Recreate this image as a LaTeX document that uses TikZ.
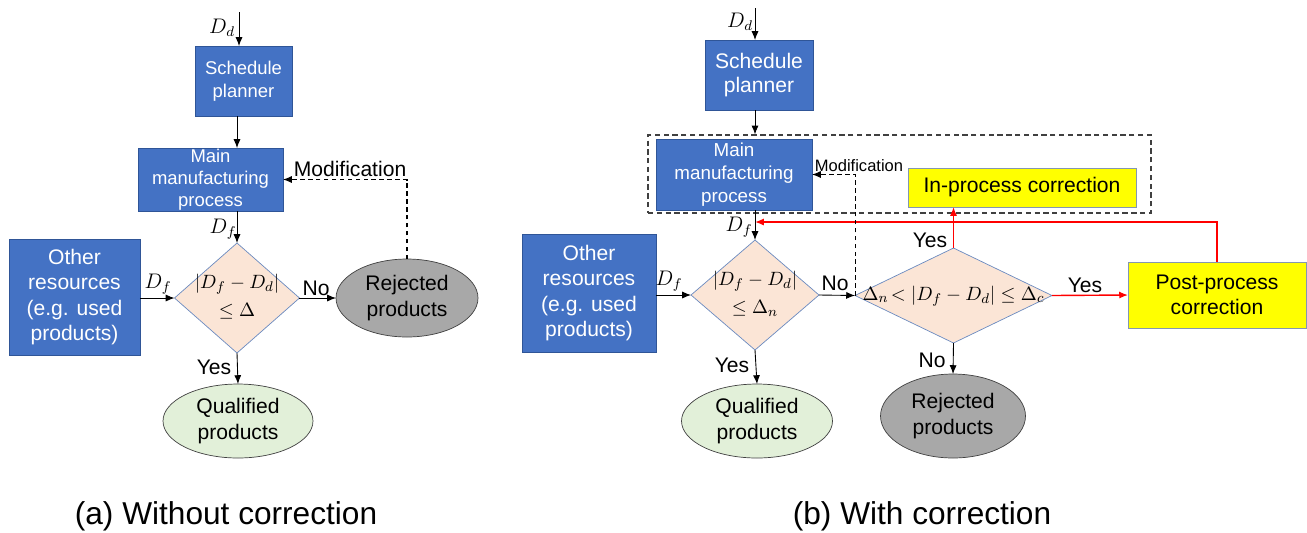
\documentclass[tikz,border=0pt]{standalone}
\usepackage{fontspec}
\setmainfont{Liberation Sans}
\usepackage{xcolor}
\usepackage{tikz}
\usetikzlibrary{positioning,shapes,arrows.meta,calc}
\definecolor{blockblue}{HTML}{4472C4}
\definecolor{blockedge}{HTML}{2F5597}
\definecolor{peach}{HTML}{FBE5D6}
\definecolor{diamondedge}{HTML}{6A8AC0}
\definecolor{palegreen}{HTML}{E2F0D9}
\definecolor{rejectgray}{HTML}{A8A8A8}
\definecolor{ovaledge}{HTML}{404040}
\definecolor{corryellow}{HTML}{FFFF00}
\definecolor{corredge}{HTML}{8497B0}
\newcommand{\txtsize}[2]{\fontsize{#1}{#2}\selectfont}
\tikzstyle{every node}=[font=\txtsize{12}{14.4}]
\tikzstyle{block}=[rectangle, draw=blockedge, fill=blockblue,
  text=white, align=center, inner sep=0pt, outer sep=0pt]
\tikzstyle{decision}=[diamond, draw=diamondedge, fill=peach,
  inner sep=0pt, outer sep=0pt, font=\txtsize{11}{13}]
\tikzstyle{terminal}=[ellipse, draw=ovaledge, align=center,
  inner sep=0pt, outer sep=0pt]
\tikzstyle{correction}=[rectangle, draw=corredge, fill=corryellow,
  align=center, inner sep=0pt, outer sep=0pt]
\tikzstyle{tag}=[inner sep=0pt]
\tikzstyle{line} = [draw, line width=0.5pt, -{Latex[length=5pt,width=4pt]}]
\tikzstyle{redline} = [line, draw=red, line width=0.8pt]
\tikzstyle{dashline} = [line, line width=0.6pt, dash pattern=on 2.5pt off 2pt]
\tikzstyle{frame}=[rectangle, draw=black!75, line width=0.7pt,
  dash pattern=on 3pt off 2pt, inner sep=0pt]

\begin{document}
\begin{tikzpicture}[x=0.02cm, y=-0.02cm]
    \useasboundingbox (0,0) rectangle (1307,532);
    % (a) without correction
    \node (planner1) [block, minimum width=1.94cm, minimum height=1.4cm,
          font=\txtsize{10.5}{13}] at (243.5,81) {Schedule\\planner};
    \node (main1) [block, minimum width=2.9cm, minimum height=1.26cm,
          font=\txtsize{10.5}{12.5}] at (210.5,179.5)
          {Main\\manufacturing\\process};
    \node (other1) [block, minimum width=2.62cm, minimum height=2.32cm]
          at (74.5,297) {Other\\resources\\(e.g. used\\products)};
    \node (check1) [decision, minimum width=2.5cm, minimum height=2.2cm]
          at (237,298)
          {\makebox[0pt]{\begin{tabular}{@{}c@{}}$\bigl|D_f - D_d\bigr|$\\[3pt]$\leq \Delta$\end{tabular}}};
    \node (rejected1) [terminal, fill=rejectgray, minimum width=2.84cm,
          minimum height=1.56cm] at (407,298) {Rejected\\products};
    \node (qualified1) [terminal, fill=palegreen, minimum width=3cm,
          minimum height=1.48cm] at (238,421) {Qualified\\products};
    \coordinate (in1) at (239,12);
    \draw[line] (in1) -- (planner1.north -| in1);
    \draw[line] (planner1.south -| check1) -- (main1.north -| check1);
    \draw[line] (main1.south -| check1) -- (check1.north);
    \draw[line] (other1.east |- check1) -- (check1.west);
    \draw[line] (check1.east) -- (rejected1.west);
    \draw[line] (check1.south) -- (qualified1.north);
    \draw[dashline] (rejected1.north) |- (main1.east);
    \node (dd1) [tag] at (222,28) {$D_d$};
    \node (df1) [tag] at (223,229) {$D_f$};
    \node (dfo1) [tag] at (158,284) {$D_f$};
    \node (no1) [tag] at (316,288) {No};
    \node (yes1) [tag] at (214,367) {Yes};
    \node (mod1) [tag] at (350,169) {Modification};

    % (b) with correction
    \node (planner2) [block, minimum width=2.16cm, minimum height=1.4cm,
          font=\txtsize{12}{14}] at (759,75) {Schedule\\planner};
    \node (frame2) [frame, minimum width=10.06cm, minimum height=1.56cm]
          at (899.5,174) {};
    \node (main2) [block, minimum width=3.12cm, minimum height=1.42cm,
          font=\txtsize{10.7}{13}] at (734,174.5)
          {Main\\manufacturing\\process};
    \node (other2) [block, minimum width=2.68cm, minimum height=2.36cm]
          at (589,293) {Other\\resources\\(e.g. used\\products)};
    \node (check2) [decision, minimum width=2.56cm, minimum height=2.2cm]
          at (755,295)
          {\makebox[0pt]{\begin{tabular}{@{}c@{}}$\bigl|D_f - D_d\bigr|$\\[3pt]$\leq \Delta_n$\end{tabular}}};
    \node (range2) [decision, minimum width=3.94cm, minimum height=1.9cm]
          at (953.5,295.5)
          {\makebox[0pt]{$\Delta_n\!< \bigl|D_f - D_d\bigr| \leq \Delta_c$}};
    \node (inproc2) [correction, minimum width=4.56cm, minimum height=0.78cm]
          at (1022,187.5) {In-process correction};
    \node (postproc2) [correction, minimum width=3.56cm, minimum height=1.32cm]
          at (1217,295) {Post-process\\correction};
    \node (qualified2) [terminal, fill=palegreen, minimum width=3.02cm,
          minimum height=1.48cm] at (757,421) {Qualified\\products};
    \node (rejected2) [terminal, fill=rejectgray, minimum width=2.9cm,
          minimum height=1.68cm] at (953,416) {Rejected\\products};
    \coordinate (in2) at (755,8);
    \coordinate (merge2) at (755,222);
    \draw[line] (in2) -- (planner2.north -| in2);
    \draw[line] (planner2.south -| check2) -- (frame2.north -| check2);
    \draw[line] (main2.south -| check2) -- (check2.north);
    \draw[line] (other2.east |- check2) -- (check2.west);
    \draw[line] (check2.east) -- (range2.west);
    \draw[line] (check2.south) -- (qualified2.north);
    \draw[line] (range2.south) -- (rejected2.north);
    \draw[redline] (range2.east) -- (postproc2.west);
    \draw[redline] (range2.north) -- (range2.north |- inproc2.south);
    \draw[redline] (postproc2.north) |- (merge2);
    \draw[dashline] (range2.west) |- (main2.east);
    \node (dd2) [tag] at (740,22) {$D_d$};
    \node (df2) [tag] at (739,227) {$D_f$};
    \node (dfo2) [tag] at (669,281) {$D_f$};
    \node (no2) [tag] at (835,283) {No};
    \node (yes2) [tag] at (732,365) {Yes};
    \node (no3) [tag] at (932,360) {No};
    \node (yes3) [tag] at (930,240) {Yes};
    \node (yes4) [tag] at (1085,285) {Yes};
    \node (mod2) [tag, font=\txtsize{9.4}{11}] at (859,166) {Modification};

    % captions
    \node (caption1) [font=\txtsize{18}{21}] at (226,516) {(a) Without correction};
    \node (caption2) [font=\txtsize{18}{21}] at (922,516) {(b) With correction};
\end{tikzpicture}
\end{document}
